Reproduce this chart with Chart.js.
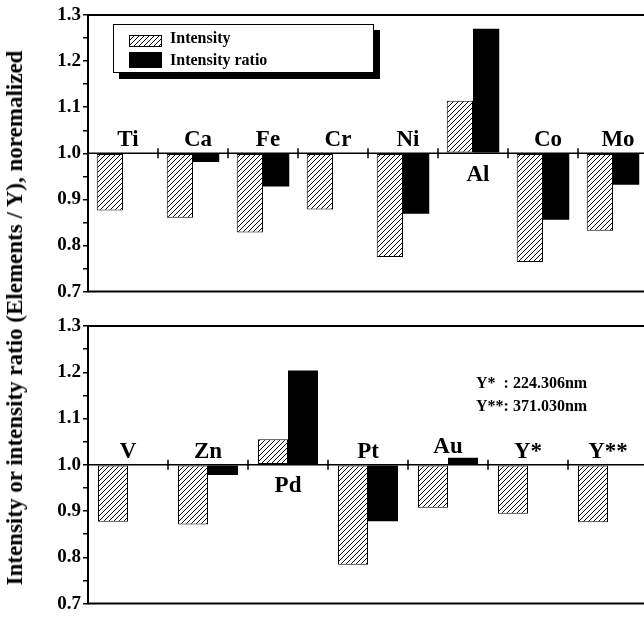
<!DOCTYPE html>
<html>
<head>
<meta charset="utf-8">
<script src="https://cdn.jsdelivr.net/npm/chart.js@4.4.1/dist/chart.umd.min.js"></script>
<style>
  html, body { margin: 0; padding: 0; background: #fff; overflow: hidden; }
  #page { position: relative; width: 644px; height: 617px; overflow: hidden; }
  .panel { position: absolute; left: 0; width: 652px; }
  #topPanel { top: 0; height: 305px; }
  #bottomPanel { top: 305px; height: 312px; }
  #yTitle {
    position: absolute; left: 15px; top: 318px;
    transform: translate(-50%, -50%) rotate(-90deg);
    white-space: nowrap;
    font: bold 23px "Liberation Serif", "Times New Roman", serif;
    color: #000;
  }
</style>
</head>
<body>
<div id="page">
  <div class="panel" id="topPanel"><canvas id="topChart"></canvas></div>
  <div class="panel" id="bottomPanel"><canvas id="bottomChart"></canvas></div>
  <div id="yTitle">Intensity or intensity ratio (Elements / Y), noremalized</div>
</div>
<script>
// data
const topElements = ['Ti', 'Ca', 'Fe', 'Cr', 'Ni', 'Al', 'Co', 'Mo'];
const topIntensity = [0.876, 0.860, 0.828, 0.878, 0.775, 1.114, 0.764, 0.832];
const topRatio = [1.000, 0.981, 0.928, 1.000, 0.869, 1.270, 0.856, 0.932];

const bottomElements = ['V', 'Zn', 'Pd', 'Pt', 'Au', 'Y*', 'Y**'];
const bottomIntensity = [0.877, 0.871, 1.055, 0.784, 0.907, 0.894, 0.876];
const bottomRatio = [1.000, 0.978, 1.204, 0.878, 1.015, null, null];

const seriesNames = ['Intensity', 'Intensity ratio'];
const yMin = 0.7;
const yMax = 1.3;
const yStep = 0.05;
const baseLevel = 1.0;
const wavelengthNotes = ['Y*  : 224.306nm', 'Y**: 371.030nm'];

const SERIF = '"Liberation Serif", "Times New Roman", serif';

// diagonal hatch fill
function makeHatch() {
    const tile = document.createElement('canvas');
    tile.width = 5;
    tile.height = 5;
    const g = tile.getContext('2d');
    g.fillStyle = '#fff';
    g.fillRect(0, 0, 5, 5);
    g.strokeStyle = '#000';
    g.lineWidth = 1;
    g.beginPath();
    g.moveTo(0, 5); g.lineTo(5, 0);
    g.moveTo(-1, 1); g.lineTo(1, -1);
    g.moveTo(4, 6); g.lineTo(6, 4);
    g.stroke();
    return g.createPattern(tile, 'repeat');
}
const hatch = makeHatch();

// baseline at 1.0, category ticks, frame, element names
const panelDecor = {
    id: 'panelDecor',
    afterDatasetsDraw(chart, args, opts) {
        const ctx = chart.ctx;
        const area = chart.chartArea;
        const x = chart.scales.x;
        const y = chart.scales.y;
        const lineY = y.getPixelForValue(baseLevel);
        const n = chart.data.labels.length;

        ctx.save();
        ctx.strokeStyle = '#000';
        ctx.lineWidth = 1.5;
        ctx.beginPath();
        ctx.moveTo(area.left, lineY);
        ctx.lineTo(area.right, lineY);
        for (let i = 0; i < n - 1; i++) {
            const bx = (x.getPixelForValue(i) + x.getPixelForValue(i + 1)) / 2;
            ctx.moveTo(bx, lineY - 5);
            ctx.lineTo(bx, lineY + 5);
        }
        ctx.stroke();

        ctx.lineWidth = 2;
        ctx.beginPath();
        ctx.moveTo(area.left, area.top);
        ctx.lineTo(area.right, area.top);
        ctx.moveTo(area.left, area.bottom);
        ctx.lineTo(area.right, area.bottom);
        ctx.stroke();

        // element names above the line, or below when the bars go up
        ctx.fillStyle = '#000';
        ctx.font = 'bold 23px ' + SERIF;
        ctx.textAlign = 'center';
        const sets = chart.data.datasets;
        for (let i = 0; i < n; i++) {
            const vals = sets.map(d => d.data[i]).filter(v => v !== null);
            const hi = Math.max(...vals);
            const cx = x.getPixelForValue(i) + (opts.shift || 0);
            if (hi > baseLevel + 0.03) {
                ctx.textBaseline = 'top';
                ctx.fillText(chart.data.labels[i], cx, lineY + 10);
            } else {
                ctx.textBaseline = 'alphabetic';
                const by = Math.min(lineY - 7, y.getPixelForValue(hi) - 5);
                ctx.fillText(chart.data.labels[i], cx, by);
            }
        }
        ctx.restore();
    }
};

// boxed legend with drop shadow (top panel)
const boxLegend = {
    id: 'boxLegend',
    afterDraw(chart) {
        const ctx = chart.ctx;
        const sets = chart.data.datasets;
        ctx.save();
        ctx.fillStyle = '#000';
        ctx.fillRect(119, 30, 261, 49);
        ctx.fillStyle = '#fff';
        ctx.fillRect(113, 24, 261, 49);
        ctx.strokeStyle = '#000';
        ctx.lineWidth = 1;
        ctx.strokeRect(113.5, 24.5, 260, 48);

        ctx.fillStyle = sets[0].backgroundColor;
        ctx.fillRect(129, 35, 33, 12);
        ctx.strokeRect(129.5, 35.5, 32, 11);
        ctx.fillStyle = sets[1].backgroundColor;
        ctx.fillRect(129, 52, 33, 16);

        ctx.fillStyle = '#000';
        ctx.font = 'bold 16px ' + SERIF;
        ctx.textAlign = 'left';
        ctx.textBaseline = 'middle';
        ctx.fillText(sets[0].label, 170, 39);
        ctx.fillText(sets[1].label, 170, 61);
        ctx.restore();
    }
};

// wavelength note (bottom panel)
const noteText = {
    id: 'noteText',
    afterDraw(chart) {
        const ctx = chart.ctx;
        ctx.save();
        ctx.fillStyle = '#000';
        ctx.font = 'bold 16px ' + SERIF;
        ctx.textAlign = 'left';
        ctx.textBaseline = 'middle';
        wavelengthNotes.forEach((t, i) => ctx.fillText(t, 476, 79 + i * 23));
        ctx.restore();
    }
};

function buildPanel(canvasId, labels, intensity, ratio, pad, shift, extra) {
    const ctx = document.getElementById(canvasId);
    return new Chart(ctx, {
        type: 'bar',
        data: {
            labels: labels,
            datasets: [{
                label: seriesNames[0],
                data: intensity,
                base: baseLevel,
                backgroundColor: hatch,
                borderColor: '#000',
                borderWidth: 1,
                borderSkipped: false
            }, {
                label: seriesNames[1],
                data: ratio,
                base: baseLevel,
                backgroundColor: '#000',
                borderWidth: 0
            }]
        },
        options: {
            responsive: true,
            maintainAspectRatio: false,
            animation: false,
            layout: { padding: pad },
            datasets: { bar: { categoryPercentage: 0.75, barPercentage: 1 } },
            plugins: {
                legend: { display: false },
                tooltip: { enabled: false },
                panelDecor: { shift: shift }
            },
            scales: {
                x: { display: false },
                y: {
                    min: yMin,
                    max: yMax,
                    afterFit: s => { s.width = 88; },
                    ticks: {
                        stepSize: yStep,
                        autoSkip: false,
                        padding: 2,
                        color: '#000',
                        font: { family: SERIF, weight: 'bold', size: 19 },
                        callback: v => Math.abs(v * 10 - Math.round(v * 10)) < 1e-6 ? v.toFixed(1) : ''
                    },
                    grid: { drawOnChartArea: false, tickLength: 5, color: '#000', lineWidth: 1.5 },
                    border: { color: '#000', width: 2 }
                }
            }
        },
        plugins: [panelDecor].concat(extra)
    });
}

buildPanel('topChart', topElements, topIntensity, topRatio,
    { top: 15, bottom: 10, left: 0, right: 4 }, 5, [boxLegend]);
buildPanel('bottomChart', bottomElements, bottomIntensity, bottomRatio,
    { top: 21, bottom: 12, left: 0, right: 4 }, 0, [noteText]);
</script>
</body>
</html>
